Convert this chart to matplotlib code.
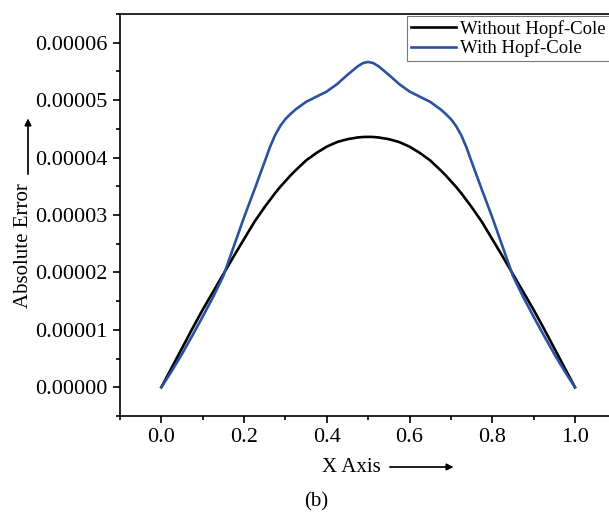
import matplotlib.pyplot as plt
from matplotlib.ticker import MultipleLocator, FormatStrFormatter

plt.rcParams['font.family'] = ['Liberation Serif', 'DejaVu Serif']

# x positions (denser where the curves bend)
x = [0.000, 0.025, 0.050, 0.075, 0.100, 0.125, 0.150, 0.175, 0.200, 0.225,
     0.250, 0.2625, 0.275, 0.2875, 0.300, 0.3125, 0.325, 0.350, 0.375,
     0.400, 0.425, 0.450, 0.475, 0.4875, 0.500, 0.5125, 0.525, 0.550,
     0.575, 0.600, 0.625, 0.650, 0.675, 0.6875, 0.700, 0.7125, 0.725,
     0.7375, 0.750, 0.775, 0.800, 0.825, 0.850, 0.875, 0.900, 0.925,
     0.950, 0.975, 1.000]

# absolute error, units of 1e-5
without_hc = [0.00, 0.34, 0.68, 1.02, 1.35, 1.66, 1.97, 2.28, 2.58, 2.88,
              3.14, 3.26, 3.38, 3.49, 3.59, 3.69, 3.78, 3.95, 4.08,
              4.19, 4.27, 4.32, 4.35, 4.358, 4.36, 4.358, 4.35, 4.32,
              4.27, 4.19, 4.08, 3.95, 3.78, 3.69, 3.59, 3.49, 3.38,
              3.26, 3.14, 2.88, 2.58, 2.28, 1.97, 1.66, 1.35, 1.02,
              0.68, 0.34, 0.00]
with_hc = [0.00, 0.28, 0.58, 0.90, 1.23, 1.57, 1.94, 2.45, 2.96, 3.44,
           3.93, 4.18, 4.39, 4.55, 4.67, 4.76, 4.84, 4.97, 5.06,
           5.15, 5.28, 5.44, 5.59, 5.645, 5.665, 5.645, 5.59, 5.44,
           5.28, 5.15, 5.06, 4.97, 4.84, 4.76, 4.67, 4.55, 4.39,
           4.18, 3.93, 3.44, 2.96, 2.45, 1.94, 1.57, 1.23, 0.90,
           0.58, 0.28, 0.00]

fig = plt.figure(figsize=(6.09, 5.18), dpi=100)
ax = fig.add_axes([0.197, 0.197, 0.815, 0.776])

ax.plot(x, [v * 1e-5 for v in without_hc], color='black', linewidth=1.9,
        label='Without Hopf-Cole', solid_joinstyle='round')
ax.plot(x, [v * 1e-5 for v in with_hc], color='#2a52a0', linewidth=1.9,
        label='With Hopf-Cole', solid_joinstyle='round')

ax.set_xlim(-0.1, 1.1)
ax.set_ylim(-0.5e-5, 6.5e-5)
ax.xaxis.set_major_locator(MultipleLocator(0.2))
ax.xaxis.set_minor_locator(MultipleLocator(0.1))
ax.yaxis.set_major_locator(MultipleLocator(1e-5))
ax.yaxis.set_minor_locator(MultipleLocator(0.5e-5))
ax.xaxis.set_major_formatter(FormatStrFormatter('%.1f'))
ax.yaxis.set_major_formatter(FormatStrFormatter('%.5f'))
ax.tick_params(which='major', direction='out', length=5, width=1.2,
               labelsize=16, pad=4)
ax.tick_params(which='minor', direction='out', length=3, width=1.2)
for s in ax.spines.values():
    s.set_linewidth(1.2)

ax.set_xlabel('X Axis', fontsize=15)
ax.xaxis.set_label_coords(0.466, -0.104)
ax.set_ylabel('Absolute Error', fontsize=15)
ax.yaxis.set_label_coords(-0.175, 0.425)

# label arrows
fig.add_artist(plt.annotate('', xy=(456 / 609, 1 - 467 / 518),
                            xytext=(387 / 609, 1 - 467 / 518),
                            xycoords='figure fraction',
                            arrowprops=dict(arrowstyle='-|>', color='black',
                                            lw=0.9, mutation_scale=10)))
fig.add_artist(plt.annotate('', xy=(28 / 609, 1 - 116 / 518),
                            xytext=(28 / 609, 1 - 177 / 518),
                            xycoords='figure fraction',
                            arrowprops=dict(arrowstyle='-|>', color='black',
                                            lw=0.9, mutation_scale=10)))

leg = ax.legend(loc='upper left', bbox_to_anchor=(407 / 609, 1 - 16 / 518),
                bbox_transform=fig.transFigure, fontsize=13.5,
                frameon=True, fancybox=False, handlelength=2.4,
                handletextpad=0.25, borderpad=0.2, labelspacing=0.1,
                borderaxespad=0.0)
leg.get_frame().set_edgecolor('#555555')
leg.get_frame().set_linewidth(0.8)

fig.text(316 / 609, 1 - 502 / 518, '(b)', fontsize=15, ha='center', va='center')

fig.savefig('out.png', dpi=100, facecolor='white')
